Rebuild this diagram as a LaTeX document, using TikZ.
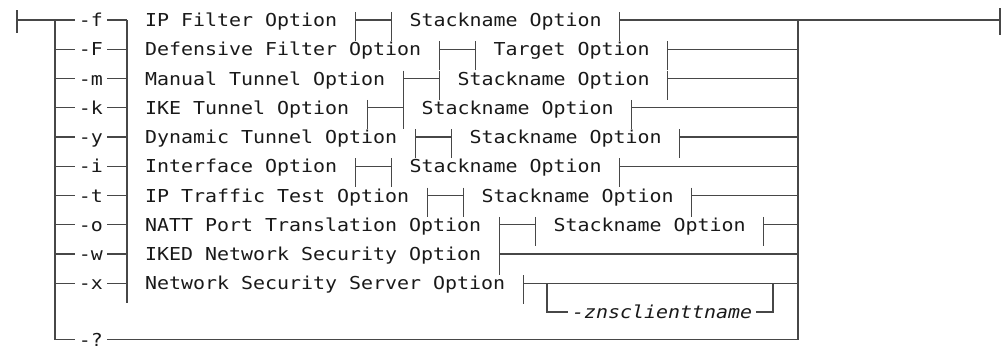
\documentclass[tikz,border=0pt]{standalone}
\usepackage{fontspec}
\usetikzlibrary{positioning}
\newfontfamily\synfont{DejaVu Sans Mono}[FakeStretch=1.12]
\newcommand{\railtick}[1]{\draw[rail] (#1) ++(0,-8) -- ++(0,29);}
\tikzset{
  rail/.style={draw=black!72, line width=1.05pt},
  syn/.style={font={\synfont\fontsize{17.8pt}{20pt}\selectfont}, text=black!90,
    text height=13pt, text depth=0pt, inner ysep=0pt},
  flag/.style={syn, inner xsep=4pt},
  frag/.style={syn, inner xsep=18pt},
}

\begin{document}
\begin{tikzpicture}[x=1pt,y=-1pt]
    \useasboundingbox (0,0) rectangle (1003,348);

    % flags
    \node[flag] (f1) at (91,20) {-f};
    \node[flag] (f2) at (91,49.25) {-F};
    \node[flag] (f3) at (91,78.5) {-m};
    \node[flag] (f4) at (91,107.75) {-k};
    \node[flag] (f5) at (91,137) {-y};
    \node[flag] (f6) at (91,166.25) {-i};
    \node[flag] (f7) at (91,195.5) {-t};
    \node[flag] (f8) at (91,224.75) {-o};
    \node[flag] (f9) at (91,254) {-w};
    \node[flag] (f10) at (91,283.25) {-x};
    \node[flag] (f11) at (91,339.5) {-?};

    % fragments
    \node[frag,anchor=west] (o1) at (127,20) {IP Filter Option};
    \node[frag,right=36pt of o1] (s1) {Stackname Option};
    \node[frag,anchor=west] (o2) at (127,49.25) {Defensive Filter Option};
    \node[frag,right=36pt of o2] (s2) {Target Option};
    \node[frag,anchor=west] (o3) at (127,78.5) {Manual Tunnel Option};
    \node[frag,right=36pt of o3] (s3) {Stackname Option};
    \node[frag,anchor=west] (o4) at (127,107.75) {IKE Tunnel Option};
    \node[frag,right=36pt of o4] (s4) {Stackname Option};
    \node[frag,anchor=west] (o5) at (127,137) {Dynamic Tunnel Option};
    \node[frag,right=36pt of o5] (s5) {Stackname Option};
    \node[frag,anchor=west] (o6) at (127,166.25) {Interface Option};
    \node[frag,right=36pt of o6] (s6) {Stackname Option};
    \node[frag,anchor=west] (o7) at (127,195.5) {IP Traffic Test Option};
    \node[frag,right=36pt of o7] (s7) {Stackname Option};
    \node[frag,anchor=west] (o8) at (127,224.75) {NATT Port Translation Option};
    \node[frag,right=36pt of o8] (s8) {Stackname Option};
    \node[frag,anchor=west] (o9) at (127,254) {IKED Network Security Option};
    \node[frag,anchor=west] (o10) at (127,283.25) {Network Security Server Option};
    \node[flag,anchor=west] (zns) at (568,312) {\itshape -znsclienttname};

    \coordinate (beg) at (17,20);
    \coordinate (lt) at (55,20);
    \coordinate (lb) at (55,339.5);
    \coordinate (rc) at (127,303.25);
    \coordinate (rt) at (798,20);
    \coordinate (rb) at (798,339.5);
    \coordinate (fin) at (1000,20);
    \coordinate (bx) at (547,283.25);
    \coordinate (by) at (773,283.25);

    % main rails
    \draw[rail] (beg) ++(0,-10) -- ++(0,23);
    \draw[rail] (fin) ++(0,-12) -- ++(0,27);
    \draw[rail] (beg) -- (f1.west) (lt) -- (lb) -- (f11.west)
      (f11.east) -- (rb) -- (rt) -- (fin);
    \draw[rail] (o1.west) -- (rc);

    % rows
    \draw[rail] (f1.east) -- (o1.west) (o1.east) -- (s1.west) (s1.east) -- (s1.east -| rt);
    \draw[rail] (f2.west -| lt) -- (f2.west) (f2.east) -- (o2.west) (o2.east) -- (s2.west) (s2.east) -- (s2.east -| rt);
    \draw[rail] (f3.west -| lt) -- (f3.west) (f3.east) -- (o3.west) (o3.east) -- (s3.west) (s3.east) -- (s3.east -| rt);
    \draw[rail] (f4.west -| lt) -- (f4.west) (f4.east) -- (o4.west) (o4.east) -- (s4.west) (s4.east) -- (s4.east -| rt);
    \draw[rail] (f5.west -| lt) -- (f5.west) (f5.east) -- (o5.west) (o5.east) -- (s5.west) (s5.east) -- (s5.east -| rt);
    \draw[rail] (f6.west -| lt) -- (f6.west) (f6.east) -- (o6.west) (o6.east) -- (s6.west) (s6.east) -- (s6.east -| rt);
    \draw[rail] (f7.west -| lt) -- (f7.west) (f7.east) -- (o7.west) (o7.east) -- (s7.west) (s7.east) -- (s7.east -| rt);
    \draw[rail] (f8.west -| lt) -- (f8.west) (f8.east) -- (o8.west) (o8.east) -- (s8.west) (s8.east) -- (s8.east -| rt);
    \draw[rail] (f9.west -| lt) -- (f9.west) (f9.east) -- (o9.west) (o9.east) -- (o9.east -| rt);
    \draw[rail] (f10.west -| lt) -- (f10.west) (f10.east) -- (o10.west) (o10.east) -- (o10.east -| rt);
    \draw[rail] (bx) |- (zns.west) (zns.east) -| (by);

    % fragment bars
    \railtick{o1.east} \railtick{s1.west} \railtick{s1.east}
    \railtick{o2.east} \railtick{s2.west} \railtick{s2.east}
    \railtick{o3.east} \railtick{s3.west} \railtick{s3.east}
    \railtick{o4.east} \railtick{s4.west} \railtick{s4.east}
    \railtick{o5.east} \railtick{s5.west} \railtick{s5.east}
    \railtick{o6.east} \railtick{s6.west} \railtick{s6.east}
    \railtick{o7.east} \railtick{s7.west} \railtick{s7.east}
    \railtick{o8.east} \railtick{s8.west} \railtick{s8.east}
    \railtick{o9.east}
    \railtick{o10.east}
\end{tikzpicture}
\end{document}
